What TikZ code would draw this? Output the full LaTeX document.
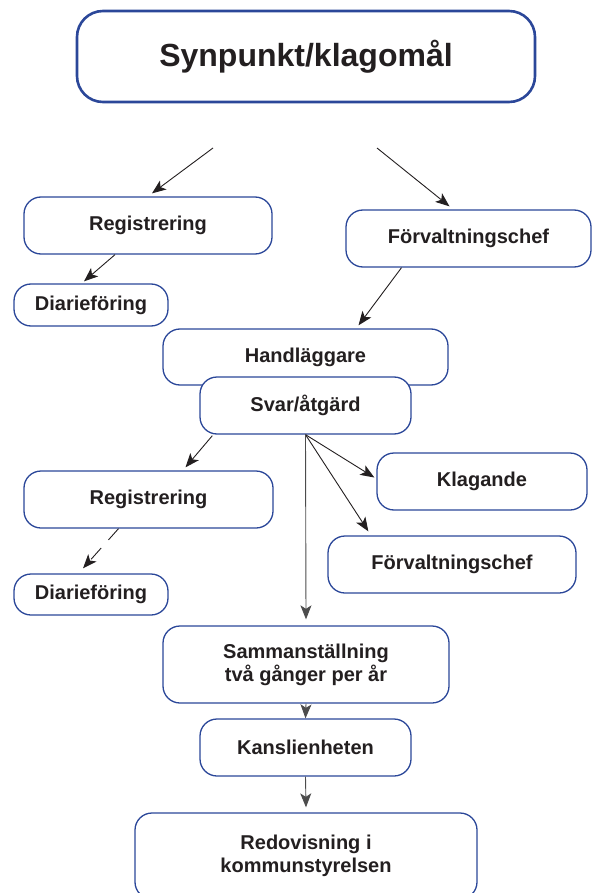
\documentclass[tikz,border=0pt]{standalone}
\usepackage{fontspec}
\setmainfont{Liberation Sans}
\usepackage{tikz}
\usepackage{xcolor}
\usetikzlibrary{shapes,arrows.meta,positioning,calc}

\definecolor{boxblue}{RGB}{43,71,153}
\definecolor{ink}{RGB}{35,31,32}

\begin{document}
\begin{tikzpicture}[x=1pt, y=-1pt, font=\bfseries\fontsize{20}{23}\selectfont,
    box/.style={draw=boxblue, line width=1.3pt, fill=white, rounded corners=17pt,
                align=center, text=ink, inner sep=0pt},
    link/.style={draw=ink, line width=0.9pt, -{Stealth[length=14pt,width=11pt,inset=3.5pt]}},
    vlink/.style={link, draw=black!70}]
        \useasboundingbox (0,0) rectangle (592,893);
        % top of the chart
        \node[box, minimum width=458pt, minimum height=91pt, line width=2.6pt,
              rounded corners=26pt, font=\bfseries\fontsize{32}{38}\selectfont]
              (syn) at (306,56.5) {\raisebox{-3pt}{Synpunkt/klagomål}};
        \coordinate (synl) at (213,148);
        \coordinate (synr) at (377,148);
        % left branch: registration
        \node[box, minimum width=248pt, minimum height=57pt] (reg1) at (148,225.5) {Registrering};
        \node[box, minimum width=154pt, minimum height=42pt] (dia1) at (91,305) {Diarieföring};
        % right branch: head of administration
        \node[box, minimum width=245pt, minimum height=57pt] (fc1) at (468.5,238.5) {Förvaltningschef};
        % case officer and reply
        \node[box, minimum width=285pt, minimum height=56pt] (hand) at (305.5,357) {Handläggare};
        \node[box, minimum width=211pt, minimum height=57pt] (svar) at (305.5,405.5) {Svar/åtgärd};
        % the reply goes out to ...
        \node[box, minimum width=249pt, minimum height=57pt] (reg2) at (148.5,499.5) {Registrering};
        \node[box, minimum width=154pt, minimum height=41pt] (dia2) at (91,594.5) {Diarieföring};
        \node[box, minimum width=210pt, minimum height=57pt] (klag) at (482,481.5) {Klagande};
        \node[box, minimum width=248pt, minimum height=57pt] (fc2) at (452,564.5) {Förvaltningschef};
        % summary and report
        \node[box, minimum width=286pt, minimum height=77pt] (samm) at (306,664.5)
              {Sammanställning\\två gånger per år};
        \node[box, minimum width=211pt, minimum height=57pt] (kansli) at (305.5,747.5) {Kanslienheten};
        \node[box, minimum width=342pt, minimum height=86pt] (redov) at (306,856)
              {Redovisning i\\kommunstyrelsen};

        \draw[link] (synl) -- ($(reg1.north)+(4,-3)$);
        \draw[link] (synr) -- ($(fc1.north)+(-19,-3)$);
        \draw[link] ($(reg1.south)+(-33,0)$) -- ($(dia1.north)+(-7,-2)$);
        \draw[link] ($(fc1.south)+(-67,0)$) -- ($(hand.north)+(53,-3)$);
        \draw[link] ($(svar.south west)+(13,1)$) -- ($(reg2.north)+(37,-3)$);
        \draw[link, dash pattern=on 15pt off 11pt] ($(reg2.south)+(-30,0)$) -- ($(dia2.north)+(-8,-5)$);
        \draw[link] (svar.south) -- ($(klag.west)+(-2,-4)$);
        \draw[link] (svar.south) -- ($(fc2.north west)+(41,-4)$);
        \draw[vlink] (svar.south) -- ($(samm.north)+(0,-6)$);
        \draw[vlink] (samm.south) -- (kansli.north);
        \draw[vlink] (kansli.south) -- ($(redov.north)+(0,-5)$);
    \end{tikzpicture}
\end{document}
